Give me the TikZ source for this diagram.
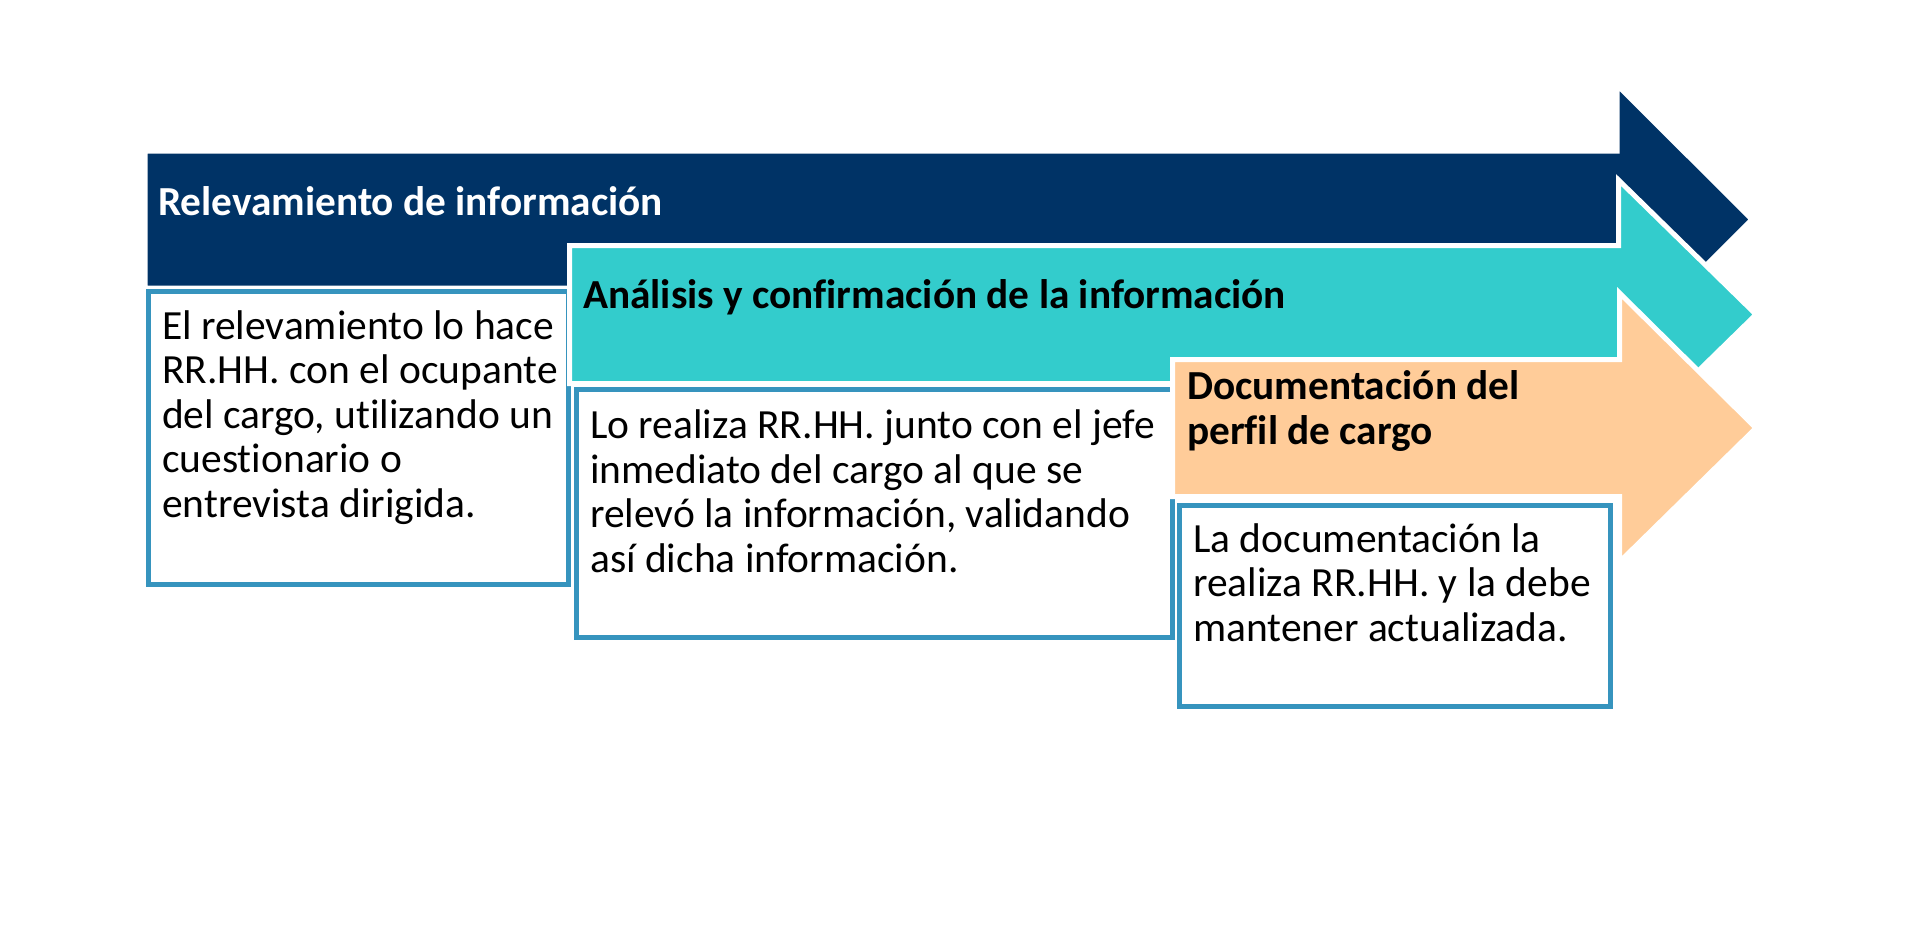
\documentclass[tikz,border=0pt]{standalone}
\usepackage{fontspec}
\setmainfont{Carlito}[Ligatures=NoCommon]
\usepackage{tikz}
\usetikzlibrary{positioning, calc}

\definecolor{phasenavy}{RGB}{0, 51, 102}
\definecolor{phasecyan}{RGB}{51, 204, 204}
\definecolor{phasepeach}{RGB}{255, 204, 153}
\definecolor{boxblue}{RGB}{54, 148, 190}

\tikzset{
  phasearrow/.style={draw=white, line width=5pt, line join=miter},
  descbox/.style={draw=boxblue, fill=white, line width=5pt, inner sep=0pt, outer sep=0pt},
  phasetitle/.style={font=\fontsize{41.3}{44.5}\selectfont\bfseries, anchor=base west, inner sep=0pt, align=left},
  desctext/.style={font=\fontsize{41.5}{44.5}\selectfont, anchor=base west, inner sep=0pt, align=left}
}

\begin{document}
\begin{tikzpicture}[x=1pt, y=-1pt]
  \useasboundingbox[fill=white] (0,0) rectangle (1916,924);

  % Phase 1 (base anchor of a multi-line node = last line)
  \draw[phasearrow, fill=phasenavy] (145,151) -- (1617,151) -- (1617,85) -- (1752,219.5)
    -- (1617,354) -- (1617,288) -- (145,288) -- cycle;
  \node[phasetitle, text=white] (title1) at (158,215) {Relevamiento de información};
  \node[descbox, minimum width=420pt, minimum height=293pt] (box1) at (358.5,438) {};
  \node[desctext] (text1) at (162,517) {El relevamiento lo hace\\RR.HH. con el ocupante\\del cargo, utilizando un\\cuestionario o\\entrevista dirigida.};

  % Phase 2
  \draw[phasearrow, fill=phasecyan] (569.5,245.5) -- (1618.5,245.5) -- (1618.5,180) -- (1756,314.5)
    -- (1618.5,449) -- (1618.5,383.5) -- (569.5,383.5) -- cycle;
  \node[phasetitle] (title2) at (583,308) {Análisis y confirmación de la información};
  \node[descbox, minimum width=596pt, minimum height=248pt] (box2) at (874.5,513.5) {};
  \node[desctext] (text2) at (590,572) {Lo realiza RR.HH. junto con el jefe\\inmediato del cargo al que se\\relevó la información, validando\\así dicha información.};

  % Phase 3
  \draw[phasearrow, fill=phasepeach] (1172.5,359.5) -- (1619.5,359.5) -- (1619.5,293) -- (1756,428)
    -- (1619.5,562) -- (1619.5,496.5) -- (1172.5,496.5) -- cycle;
  \node[phasetitle] (title3) at (1187,444) {Documentación del\\perfil de cargo};
  \node[descbox, minimum width=431pt, minimum height=201pt] (box3) at (1395,606) {};
  \node[desctext] (text3) at (1193,641) {La documentación la\\realiza RR.HH. y la debe\\mantener actualizada.};
\end{tikzpicture}
\end{document}
